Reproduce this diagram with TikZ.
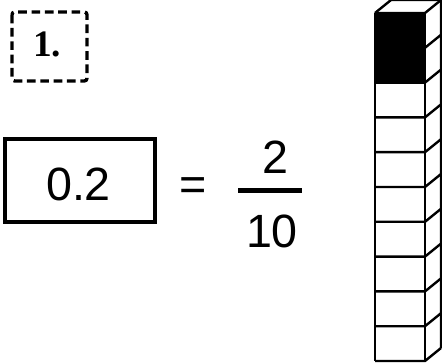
\documentclass[tikz,border=0pt]{standalone}
\usepackage{fontspec}
\setmainfont{Liberation Sans}
\newfontfamily\numfont{Liberation Serif}

\begin{document}
\begin{tikzpicture}[
    x=0.75pt, y=-0.75pt,
    txt/.style={inner sep=0pt, font=\fontsize{35}{40}\selectfont},
    edge/.style={line width=1.8pt},
]
\useasboundingbox (0,0) rectangle (442,363);

% task number
\draw[line width=2.5pt, dash pattern=on 6.5pt off 3.5pt, rounded corners=2pt] (12,12) rectangle (87,81);
\node[inner sep=0pt, font=\numfont\bfseries\fontsize{28}{32}\selectfont] (num) at (47,44.5) {1.};

% decimal and fraction
\draw[line width=2.6pt] (5,139) rectangle (155,222);
\node[txt] (dec) at (78.5,184.5) {0.2};
\node[txt] (eq) at (193.5,188.7) {=};
\node[txt] (numer) at (275,157.5) {2};
\node[txt] (denom) at (272,231.5) {10};
\draw[line width=3.8pt] (238,190.5) -- (302,190.5);

% column of ten cells
\fill (375,13) rectangle (425,82.6);
\foreach \i in {0,...,10} {
    \pgfmathsetmacro{\yy}{13+34.8*\i}
    \draw[edge] (375,\yy) -- (425,\yy) -- ++(16,-13);
}
\draw[edge] (375,13) -- (375,361) (425,13) -- (425,361);
\draw[edge] (375,13) -- (391,0) -- (441,0) -- (441,348);
\end{tikzpicture}
\end{document}
